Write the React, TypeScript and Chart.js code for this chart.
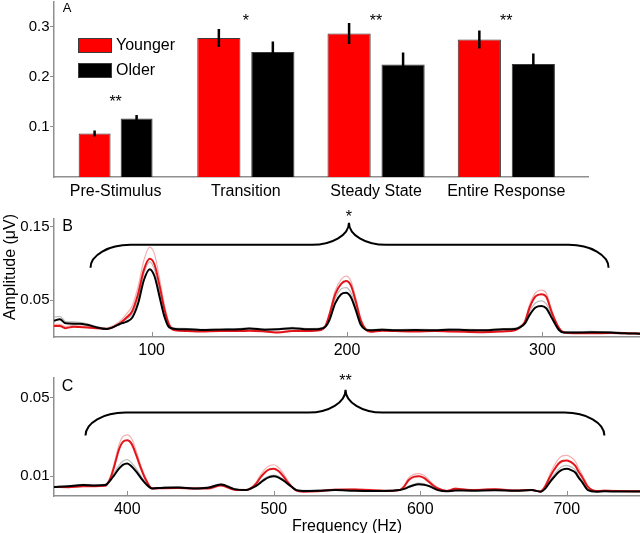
import React, { useEffect, useRef } from 'react';
import { Chart, registerables } from 'chart.js';

Chart.register(...registerables);

// ---------- Panel A data ----------
const categories = ['Pre-Stimulus', 'Transition', 'Steady State', 'Entire Response'];
const youngerMeans = [0.087, 0.278, 0.287, 0.275];
const youngerErr = [0.006, 0.018, 0.021, 0.018];
const olderMeans = [0.117, 0.250, 0.225, 0.226];
const olderErr = [0.007, 0.021, 0.024, 0.021];
const barStars = ['**', '*', '**', '**'];
const barStarLevels = [0.156, 0.318, 0.318, 0.318];
const barTicks = [0.1, 0.2, 0.3];
const seriesNames = ['Younger', 'Older'];

// ---------- Panel B data (50-350 Hz) ----------
const freqB = [
  50, 53, 56, 60, 63, 67, 72, 77, 80, 84,
  87, 90, 93, 96, 99, 101.5, 104, 106.5, 109, 112,
  118, 125, 135, 145, 150, 158, 165, 172, 180, 186,
  189, 191, 194, 197, 199.5, 202, 204.5, 207, 209.5, 212,
  218, 225, 235, 245, 252, 260, 270, 280, 286, 288.5,
  291, 293.5, 296.5, 299.5, 302, 305, 308.5, 311, 316, 325,
  335, 342, 350,
];
const olderB = [
  0.022, 0.024, 0.0185, 0.018, 0.018, 0.0165, 0.013, 0.011, 0.013, 0.018,
  0.0205, 0.026, 0.045, 0.077, 0.092, 0.082, 0.055, 0.028, 0.013, 0.011,
  0.0105, 0.0095, 0.010, 0.0105, 0.0115, 0.010, 0.0105, 0.012, 0.0105, 0.011,
  0.014, 0.023, 0.046, 0.058, 0.060, 0.054, 0.0365, 0.017, 0.010, 0.009,
  0.010, 0.009, 0.0095, 0.009, 0.010, 0.0095, 0.009, 0.0105, 0.011, 0.013,
  0.018, 0.030, 0.040, 0.042, 0.039, 0.025, 0.0095, 0.006, 0.006, 0.0065,
  0.006, 0.005, 0.0045,
];
const youngerB = [
  0.015, 0.015, 0.012, 0.014, 0.0135, 0.013, 0.012, 0.011, 0.013, 0.019,
  0.026, 0.035, 0.058, 0.091, 0.106, 0.098, 0.070, 0.038, 0.016, 0.009,
  0.008, 0.0075, 0.008, 0.008, 0.0085, 0.0075, 0.006, 0.008, 0.008, 0.009,
  0.015, 0.030, 0.058, 0.072, 0.076, 0.070, 0.048, 0.023, 0.0105, 0.007,
  0.0085, 0.008, 0.0075, 0.008, 0.0075, 0.007, 0.0065, 0.0075, 0.009, 0.013,
  0.020, 0.040, 0.055, 0.058, 0.0545, 0.032, 0.012, 0.006, 0.005, 0.005,
  0.0055, 0.005, 0.0045,
];
const youngerUpperB = [
  0.017, 0.017, 0.014, 0.016, 0.015, 0.0145, 0.013, 0.012, 0.015, 0.022,
  0.031, 0.042, 0.068, 0.104, 0.122, 0.112, 0.080, 0.044, 0.019, 0.0105,
  0.009, 0.0085, 0.009, 0.009, 0.0095, 0.0085, 0.007, 0.009, 0.009, 0.010,
  0.017, 0.033, 0.063, 0.078, 0.0825, 0.076, 0.053, 0.026, 0.012, 0.008,
  0.0095, 0.009, 0.0085, 0.009, 0.0085, 0.008, 0.0075, 0.0085, 0.010, 0.0145,
  0.022, 0.044, 0.060, 0.0635, 0.0595, 0.035, 0.0135, 0.007, 0.006, 0.006,
  0.0065, 0.006, 0.005,
];
const olderUpperB = [
  0.027, 0.028, 0.021, 0.0205, 0.020, 0.018, 0.014, 0.012, 0.014, 0.020,
  0.024, 0.031, 0.052, 0.086, 0.102, 0.091, 0.061, 0.031, 0.0145, 0.012,
  0.0115, 0.0105, 0.011, 0.0115, 0.0125, 0.011, 0.0115, 0.013, 0.0115, 0.012,
  0.0155, 0.026, 0.052, 0.065, 0.067, 0.060, 0.041, 0.019, 0.011, 0.010,
  0.011, 0.010, 0.0105, 0.010, 0.011, 0.0105, 0.010, 0.0115, 0.012, 0.0145,
  0.020, 0.035, 0.046, 0.049, 0.045, 0.029, 0.011, 0.007, 0.007, 0.0075,
  0.007, 0.006, 0.0055,
];
const ticksBx = [100, 200, 300];
const ticksBy = [0.05, 0.15];
// brace: [left x, tip x, right x, bar y, end y, tip y]
const braceB = [68.7, 201, 333.9, 0.125, 0.094, 0.155];
const starB = { text: '*', x: 201, y: 0.166 };

// ---------- Panel C data (350-750 Hz) ----------
const freqC = [
  350, 360, 370, 378, 385, 388.5, 391, 394.5, 397, 400,
  403, 406, 409, 412.5, 417, 425, 435, 445, 455, 464,
  473, 481, 484, 488, 491, 494, 497, 500, 503, 506,
  509, 512, 515.5, 520, 530, 542, 555, 570, 580, 586,
  589, 592, 595.5, 599, 602.5, 606, 609, 612, 618, 624,
  635, 651, 665, 676, 682, 685, 688.5, 691.5, 694.5, 697,
  700, 703, 706, 708, 710.5, 714.5, 720, 726, 735, 750,
];
const olderC = [
  0.0046, 0.005, 0.0056, 0.0054, 0.0056, 0.008, 0.0105, 0.014, 0.0158, 0.0165,
  0.015, 0.0125, 0.0095, 0.0063, 0.0038, 0.0042, 0.0043, 0.0038, 0.0042, 0.0058,
  0.0035, 0.003, 0.0037, 0.0052, 0.0068, 0.0085, 0.0096, 0.010, 0.0095, 0.0082,
  0.0065, 0.0048, 0.003, 0.0026, 0.0027, 0.003, 0.0027, 0.0026, 0.0027, 0.003,
  0.0036, 0.0045, 0.0055, 0.006, 0.0057, 0.005, 0.004, 0.003, 0.0024, 0.0028,
  0.0027, 0.0029, 0.0027, 0.003, 0.0022, 0.0035, 0.0071, 0.0098, 0.0122, 0.0134,
  0.0139, 0.0132, 0.0118, 0.0095, 0.0071, 0.003, 0.0022, 0.0024, 0.0023, 0.0023,
];
const youngerC = [
  0.0046, 0.0045, 0.005, 0.005, 0.0052, 0.009, 0.0147, 0.024, 0.0275, 0.0283,
  0.0265, 0.021, 0.0147, 0.0085, 0.0038, 0.004, 0.0041, 0.0038, 0.0038, 0.0053,
  0.0032, 0.003, 0.0037, 0.0063, 0.0095, 0.012, 0.0135, 0.0139, 0.0128, 0.0105,
  0.0075, 0.0048, 0.0027, 0.0022, 0.0024, 0.0032, 0.0033, 0.0028, 0.0026, 0.003,
  0.0048, 0.008, 0.0097, 0.010, 0.0092, 0.0071, 0.0052, 0.0038, 0.0025, 0.0037,
  0.003, 0.0034, 0.0028, 0.003, 0.0022, 0.0045, 0.0097, 0.0135, 0.0165, 0.0178,
  0.0181, 0.0172, 0.0152, 0.0125, 0.0097, 0.0046, 0.0025, 0.0027, 0.0025, 0.0024,
];
const youngerUpperC = [
  0.0049, 0.0048, 0.0053, 0.0053, 0.0056, 0.010, 0.0163, 0.0265, 0.0302, 0.0311,
  0.0292, 0.0232, 0.0162, 0.0094, 0.0042, 0.0043, 0.0044, 0.0041, 0.0041, 0.0057,
  0.0035, 0.0033, 0.004, 0.0071, 0.0108, 0.0137, 0.0154, 0.0159, 0.0146, 0.012,
  0.0085, 0.0053, 0.003, 0.0025, 0.0027, 0.0035, 0.0036, 0.0031, 0.0029, 0.0033,
  0.0054, 0.0091, 0.011, 0.0114, 0.0105, 0.0081, 0.0059, 0.0042, 0.0028, 0.004,
  0.0033, 0.0037, 0.0031, 0.0033, 0.0025, 0.005, 0.011, 0.0155, 0.019, 0.0204,
  0.0207, 0.0197, 0.0174, 0.0143, 0.011, 0.0052, 0.0028, 0.003, 0.0028, 0.0027,
];
const olderUpperC = [
  0.0048, 0.0052, 0.0059, 0.0057, 0.0059, 0.0088, 0.0117, 0.0157, 0.0177, 0.0185,
  0.0168, 0.014, 0.0106, 0.007, 0.0041, 0.0045, 0.0046, 0.0041, 0.0045, 0.0062,
  0.0038, 0.0033, 0.004, 0.0056, 0.0073, 0.0091, 0.0102, 0.0106, 0.0101, 0.0087,
  0.0069, 0.0051, 0.0033, 0.0029, 0.003, 0.0033, 0.003, 0.0029, 0.003, 0.0033,
  0.0039, 0.0049, 0.006, 0.0065, 0.0062, 0.0054, 0.0043, 0.0033, 0.0027, 0.0031,
  0.003, 0.0032, 0.003, 0.0033, 0.0025, 0.0039, 0.008, 0.011, 0.0137, 0.0151,
  0.0156, 0.0148, 0.0132, 0.0106, 0.008, 0.0034, 0.0025, 0.0027, 0.0026, 0.0026,
];
const ticksCx = [400, 500, 600, 700];
const ticksCy = [0.01, 0.05];
const braceC = [371.5, 549, 725.7, 0.0424, 0.0307, 0.054];
const starC = { text: '**', x: 549, y: 0.0598 };

const yTitle = 'Amplitude (\u03bcV)';
const xTitle = 'Frequency (Hz)';

// ---------- styles ----------
const FONT = "'Liberation Sans', Arial, sans-serif";
const AXIS = '#8f8f8f';
const RED = '#ff0000';
const RED_LINE = '#e3151b';
const PINK_LINE = 'rgba(240,150,150,0.75)';
const GRAY_LINE = 'rgba(175,175,175,0.85)';
const EDGE = '#3a3a3a';

const zip = (xs: number[], ys: number[]) => xs.map((x, i) => ({ x, y: ys[i] }));

function text(ctx: CanvasRenderingContext2D, s: string, x: number, y: number, size: number, align: CanvasTextAlign = 'center') {
  ctx.save();
  ctx.font = `${size}px ${FONT}`;
  ctx.fillStyle = '#000';
  ctx.textAlign = align;
  ctx.textBaseline = 'middle';
  ctx.fillText(s, x, y);
  ctx.restore();
}

// asterisks sit high in the em box: shift so the glyph centre lands on y
function star(ctx: CanvasRenderingContext2D, s: string, x: number, y: number) {
  text(ctx, s, x, y + 3.5, 16);
}

function noScalePadding(s: any) {
  s.paddingTop = 0;
  s.paddingBottom = 0;
  s.paddingLeft = 0;
  s.paddingRight = 0;
}

function drawBrace(chart: any, b: number[]) {
  const { ctx } = chart;
  const xs = chart.scales.x;
  const ys = chart.scales.y;
  const x1 = xs.getPixelForValue(b[0]);
  const xm = xs.getPixelForValue(b[1]);
  const x2 = xs.getPixelForValue(b[2]);
  const yBar = ys.getPixelForValue(b[3]);
  const yEnd = ys.getPixelForValue(b[4]);
  const yTip = ys.getPixelForValue(b[5]);
  const rEnd = 40;
  const rTip = 37;
  ctx.save();
  ctx.strokeStyle = '#000';
  ctx.lineWidth = 2;
  ctx.beginPath();
  ctx.ellipse(x1 + rEnd, yEnd, rEnd, yEnd - yBar, 0, Math.PI, 1.5 * Math.PI);
  ctx.lineTo(xm - rTip, yBar);
  ctx.ellipse(xm - rTip, yTip, rTip, yBar - yTip, 0, 0.5 * Math.PI, 0, true);
  ctx.ellipse(xm + rTip, yTip, rTip, yBar - yTip, 0, Math.PI, 0.5 * Math.PI, true);
  ctx.lineTo(x2 - rEnd, yBar);
  ctx.ellipse(x2 - rEnd, yEnd, rEnd, yEnd - yBar, 0, 1.5 * Math.PI, 2 * Math.PI);
  ctx.stroke();
  ctx.restore();
}

function inwardXTicks(chart: any, values: number[]) {
  const { ctx } = chart;
  const xs = chart.scales.x;
  const bottom = chart.chartArea.bottom;
  ctx.save();
  ctx.strokeStyle = AXIS;
  ctx.lineWidth = 1;
  ctx.beginPath();
  values.forEach((v) => {
    const px = Math.round(xs.getPixelForValue(v)) + 0.5;
    ctx.moveTo(px, bottom);
    ctx.lineTo(px, bottom - 5);
  });
  ctx.stroke();
  ctx.restore();
}

const yAxisCommon = (ticks: number[], width: number) => ({
  afterBuildTicks: (s: any) => {
    s.ticks = ticks.map((v) => ({ value: v }));
  },
  afterFit: (s: any) => {
    s.width = width;
    noScalePadding(s);
  },
  ticks: {
    font: { size: 15, family: FONT },
    color: '#000',
    padding: 0.5,
    callback: (v: any) => String(v),
  },
  grid: { drawOnChartArea: false, drawTicks: true, tickLength: 4, color: AXIS },
  border: { color: AXIS, width: 1.5 },
});

const xAxisLine = (min: number, max: number, ticks: number[], height: number, withTitle: boolean) => ({
  type: 'linear' as const,
  min,
  max,
  offset: false,
  afterBuildTicks: (s: any) => {
    s.ticks = ticks.map((v) => ({ value: v }));
  },
  afterFit: (s: any) => {
    s.height = height;
    noScalePadding(s);
  },
  ticks: {
    font: { size: 16, family: FONT },
    color: '#000',
    padding: 4,
    maxRotation: 0,
    autoSkip: false,
    callback: (v: any) => String(v),
  },
  grid: { display: false, drawTicks: false, tickLength: 0 },
  border: { color: AXIS, width: 1.5 },
  title: {
    display: withTitle,
    text: xTitle,
    color: '#000',
    font: { size: 16, family: FONT },
    padding: { top: 0, bottom: -3 },
  },
});

const lineDatasets = (f: number[], older: number[], younger: number[], oUp: number[], yUp: number[]) => [
  { label: seriesNames[1], data: zip(f, older), borderColor: '#000', borderWidth: 2 },
  { label: seriesNames[0], data: zip(f, younger), borderColor: RED_LINE, borderWidth: 2 },
  { label: seriesNames[1] + ' +SE', data: zip(f, oUp), borderColor: GRAY_LINE, borderWidth: 1.2 },
  { label: seriesNames[0] + ' +SE', data: zip(f, yUp), borderColor: PINK_LINE, borderWidth: 1.2 },
];

const lineOptionsBase = {
  animation: false as const,
  responsive: false,
  events: [] as any[],
  elements: {
    point: { radius: 0 },
    line: { cubicInterpolationMode: 'monotone' as const, fill: false },
  },
  plugins: { legend: { display: false }, tooltip: { enabled: false } },
};

export default function App() {
  const refA = useRef<HTMLCanvasElement>(null);
  const refB = useRef<HTMLCanvasElement>(null);
  const refC = useRef<HTMLCanvasElement>(null);

  useEffect(() => {
    document.body.style.margin = '0';
    Chart.defaults.font.family = FONT;
    Chart.defaults.color = '#000';

    const preIdx = [0];
    const restIdx = [1, 2, 3];
    const barDs = (idx: number[], means: number[], errs: number[], color: string, label: string, cat: number, bar: number) => ({
      label,
      data: idx.map((i) => ({ x: i + 1, y: means[i] })),
      errs: idx.map((i) => errs[i]),
      backgroundColor: color,
      borderColor: EDGE,
      borderWidth: 1,
      categoryPercentage: cat,
      barPercentage: bar,
      skipNull: true,
    });

    const panelAPlugin = {
      id: 'panelA',
      afterDatasetsDraw(chart: any) {
        const { ctx } = chart;
        const ys = chart.scales.y;
        const xs = chart.scales.x;
        // error bars
        ctx.save();
        ctx.strokeStyle = '#000';
        ctx.lineWidth = 2.5;
        ctx.beginPath();
        chart.data.datasets.forEach((ds: any, di: number) => {
          const meta = chart.getDatasetMeta(di);
          meta.data.forEach((el: any, j: number) => {
            const v = ds.data[j].y;
            const e = ds.errs[j];
            ctx.moveTo(el.x, ys.getPixelForValue(v - e));
            ctx.lineTo(el.x, ys.getPixelForValue(v + e));
          });
        });
        ctx.stroke();
        ctx.restore();
        // significance stars
        categories.forEach((_, i) => {
          star(ctx, barStars[i], xs.getPixelForValue(i + 1), ys.getPixelForValue(barStarLevels[i]));
        });
        // legend
        const items = [
          { name: seriesNames[0], color: RED, y: 38 },
          { name: seriesNames[1], color: '#000', y: 63 },
        ];
        items.forEach((it) => {
          ctx.save();
          ctx.fillStyle = it.color;
          ctx.fillRect(78, it.y, 34, 15);
          ctx.strokeStyle = EDGE;
          ctx.lineWidth = 1;
          ctx.strokeRect(78.5, it.y + 0.5, 33, 14);
          ctx.restore();
          text(ctx, it.name, 116, it.y + 8, 16, 'left');
        });
        text(ctx, 'A', 67, 8, 13);
      },
    };

    const chartA = new Chart(refA.current as HTMLCanvasElement, {
      type: 'bar',
      data: {
        datasets: [
          barDs(preIdx, youngerMeans, youngerErr, RED, seriesNames[0], 0.645, 0.76),
          barDs(preIdx, olderMeans, olderErr, '#000', seriesNames[1], 0.645, 0.76),
          barDs(restIdx, youngerMeans, youngerErr, RED, seriesNames[0], 0.829, 0.8),
          barDs(restIdx, olderMeans, olderErr, '#000', seriesNames[1], 0.829, 0.8),
        ] as any,
      },
      options: {
        animation: false,
        responsive: false,
        events: [],
        layout: { padding: { top: 2, right: 52, left: 0, bottom: 0 } },
        plugins: { legend: { display: false }, tooltip: { enabled: false } },
        scales: {
          x: {
            type: 'linear',
            min: 0.527,
            max: 4.627,
            offset: false,
            afterBuildTicks: (s: any) => {
              s.ticks = categories.map((_, i) => ({ value: i + 1 }));
            },
            afterFit: (s: any) => {
              s.height = 23;
              noScalePadding(s);
            },
            ticks: {
              font: { size: 16, family: FONT },
              color: '#000',
              padding: 5,
              maxRotation: 0,
              autoSkip: false,
              callback: (v: any) => categories[Math.round(v) - 1] ?? '',
            },
            grid: { display: false, drawTicks: false, tickLength: 0, offset: false },
            border: { color: AXIS, width: 1.5 },
          },
          y: { min: 0, max: 0.35, ...yAxisCommon(barTicks, 54) } as any,
        },
      } as any,
      plugins: [panelAPlugin],
    });

    const panelBPlugin = {
      id: 'panelB',
      afterDraw(chart: any) {
        const { ctx } = chart;
        inwardXTicks(chart, ticksBx);
        drawBrace(chart, braceB);
        star(ctx, starB.text, chart.scales.x.getPixelForValue(starB.x), chart.scales.y.getPixelForValue(starB.y));
        text(ctx, 'B', 67.5, 27, 16);
        ctx.save();
        ctx.translate(11, 67);
        ctx.rotate(-Math.PI / 2);
        text(ctx, yTitle, 0, 0, 16);
        ctx.restore();
      },
    };

    const chartB = new Chart(refB.current as HTMLCanvasElement, {
      type: 'line',
      data: { datasets: lineDatasets(freqB, olderB, youngerB, olderUpperB, youngerUpperB) },
      options: {
        ...lineOptionsBase,
        layout: { padding: { top: 19, right: 0, left: 0, bottom: 0 } },
        scales: {
          x: xAxisLine(50, 350, ticksBx, 18, false) as any,
          y: { min: 0, max: 0.16, ...yAxisCommon(ticksBy, 54) } as any,
        },
      } as any,
      plugins: [panelBPlugin],
    });

    const panelCPlugin = {
      id: 'panelC',
      afterDraw(chart: any) {
        const { ctx } = chart;
        inwardXTicks(chart, ticksCx);
        drawBrace(chart, braceC);
        star(ctx, starC.text, chart.scales.x.getPixelForValue(starC.x), chart.scales.y.getPixelForValue(starC.y));
        text(ctx, 'C', 67.5, 31.5, 16);
      },
    };

    const chartC = new Chart(refC.current as HTMLCanvasElement, {
      type: 'line',
      data: { datasets: lineDatasets(freqC, olderC, youngerC, olderUpperC, youngerUpperC) },
      options: {
        ...lineOptionsBase,
        layout: { padding: { top: 23, right: 0, left: 0, bottom: 0 } },
        scales: {
          x: xAxisLine(350, 750, ticksCx, 37, true) as any,
          y: { min: 0, max: 0.06, ...yAxisCommon(ticksCy, 54) } as any,
        },
      } as any,
      plugins: [panelCPlugin],
    });

    return () => {
      chartA.destroy();
      chartB.destroy();
      chartC.destroy();
    };
  }, []);

  const abs = (top: number, h: number): React.CSSProperties => ({
    position: 'absolute',
    left: 0,
    top,
    width: 640,
    height: h,
    display: 'block',
  });

  return (
    <div style={{ position: 'relative', width: 640, height: 533, background: '#fff', overflow: 'hidden' }}>
      <canvas ref={refA} width={640} height={200} style={abs(0, 200)} />
      <canvas ref={refB} width={640} height={155} style={abs(200, 155)} />
      <canvas ref={refC} width={640} height={178} style={abs(355, 178)} />
    </div>
  );
}
